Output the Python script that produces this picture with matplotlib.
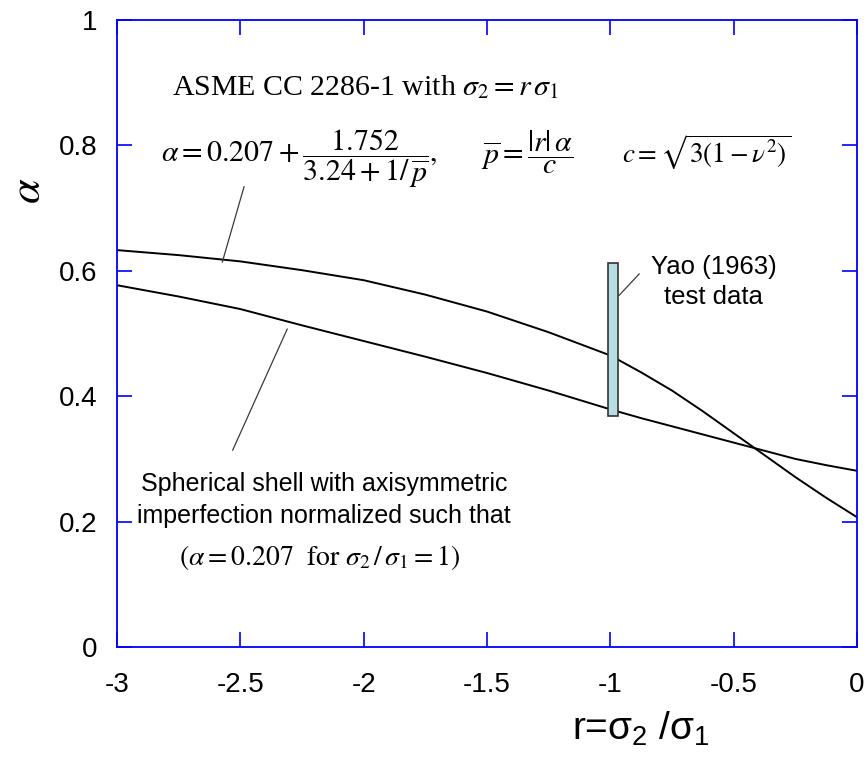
"""Buckling factor alpha vs. stress ratio r for spherical shells."""

import matplotlib

matplotlib.use("Agg")
import matplotlib.pyplot as plt  # noqa: E402

# stress ratio r = sigma2 / sigma1
r_vals = [-3.0, -2.75, -2.5, -2.25, -2.0, -1.75, -1.5, -1.25, -1.0, -0.875,
          -0.75, -0.625, -0.5, -0.375, -0.25, -0.125, 0.0]
# ASME CC 2286-1 curve
alpha_asme = [0.633, 0.625, 0.615, 0.601, 0.585, 0.562, 0.535, 0.502, 0.465, 0.438,
              0.409, 0.376, 0.341, 0.306, 0.271, 0.238, 0.207]
# spherical shell with axisymmetric imperfection
alpha_shell = [0.577, 0.559, 0.539, 0.513, 0.488, 0.463, 0.437, 0.409, 0.379, 0.365,
               0.352, 0.339, 0.326, 0.313, 0.300, 0.290, 0.281]

# Yao (1963) test data band
yao_r = -0.99
yao_low = 0.368
yao_high = 0.612

# leader lines (label end, curve end)
asme_leader_x = [-2.485, -2.573]
asme_leader_y = [0.734, 0.614]
shell_leader_x = [-2.531, -2.310]
shell_leader_y = [0.314, 0.507]
yao_leader_x = [-0.964, -0.883]
yao_leader_y = [0.561, 0.595]

x_ticks = [-3, -2.5, -2, -1.5, -1, -0.5, 0]
x_ticklabels = ["-3", "-2.5", "-2", "-1.5", "-1", "-0.5", "0"]
y_ticks = [0, 0.2, 0.4, 0.6, 0.8, 1]
y_ticklabels = ["0", "0.2", "0.4", "0.6", "0.8", "1"]

plt.rcParams["font.family"] = ["Liberation Sans", "DejaVu Sans"]
plt.rcParams["mathtext.fontset"] = "custom"
plt.rcParams["mathtext.rm"] = "Liberation Sans"
plt.rcParams["mathtext.it"] = "Liberation Sans"
plt.rcParams["mathtext.bf"] = "Liberation Sans:bold"

W, H = 867, 767
fig = plt.figure(figsize=(W / 100, H / 100), dpi=100)
ax = fig.add_axes([117 / W, 1 - 647 / H, (857 - 117) / W, (647 - 20) / H])

ax.plot(r_vals, alpha_asme, color="black", lw=1.4)
ax.plot(r_vals, alpha_shell, color="black", lw=1.4)

ax.bar([yao_r], [yao_high - yao_low], bottom=[yao_low], width=0.042,
       color="#b7dfe3", edgecolor="#333333", linewidth=1.2, zorder=3)

lead = dict(color="#3a3a3a", lw=0.9)
ax.plot(asme_leader_x, asme_leader_y, **lead)
ax.plot(shell_leader_x, shell_leader_y, **lead)
ax.plot(yao_leader_x, yao_leader_y, **lead)

serif = dict(family=["Liberation Serif", "DejaVu Serif"], math_fontfamily="stix")

ax.text(-2.777, 0.880, r"ASME CC 2286-1 with $\sigma_2 = r\,\sigma_1$",
        fontsize=21.5, va="baseline", ha="left", **serif)
ax.text(-2.822, 0.772, r"$\alpha = 0.207 + \dfrac{1.752}{3.24 + 1/\,\overline{p}},$",
        fontsize=21.5, va="baseline", ha="left", **serif)
ax.text(-1.525, 0.772, r"$\overline{p} = \dfrac{|r|\,\alpha}{c}$",
        fontsize=21.5, va="baseline", ha="left", **serif)
ax.text(-0.953, 0.772, r"$c = \sqrt{3(1-\nu^2)}$",
        fontsize=19.5, va="baseline", ha="left", **serif)

ax.text(-2.161, 0.198, "Spherical shell with axisymmetric\nimperfection normalized such that",
        fontsize=18, ha="center", va="baseline", linespacing=1.4)
ax.text(-2.178, 0.131, r"$(\alpha = 0.207\ \ \mathrm{for}\ \sigma_2\,/\,\sigma_1 = 1)$",
        fontsize=20, ha="center", va="baseline", **serif)

ax.text(-0.58, 0.547, "Yao (1963)\ntest data", fontsize=18.5,
        ha="center", va="baseline", linespacing=1.3)

ax.set_xlim(-3, 0)
ax.set_ylim(0, 1)
ax.set_xticks(x_ticks)
ax.set_xticklabels(x_ticklabels)
ax.set_yticks(y_ticks)
ax.set_yticklabels(y_ticklabels)
ax.tick_params(direction="in", length=11, width=1.2, color="blue",
               top=True, right=True, labelsize=20)
ax.tick_params(axis="x", pad=18)
ax.tick_params(axis="y", pad=14)
for sp in ax.spines.values():
    sp.set_color("blue")
    sp.set_linewidth(1.3)

fig.text(641 / W, 1 - 729 / H, r"r=$\sigma_2$ /$\sigma_1$", fontsize=28,
         ha="center", va="center", math_fontfamily="custom")
fig.text(28 / W, 1 - 191 / H, r"$\alpha$", fontsize=32, rotation=90,
         ha="center", va="center", math_fontfamily="stix")

fig.savefig("out.png", dpi=100)
